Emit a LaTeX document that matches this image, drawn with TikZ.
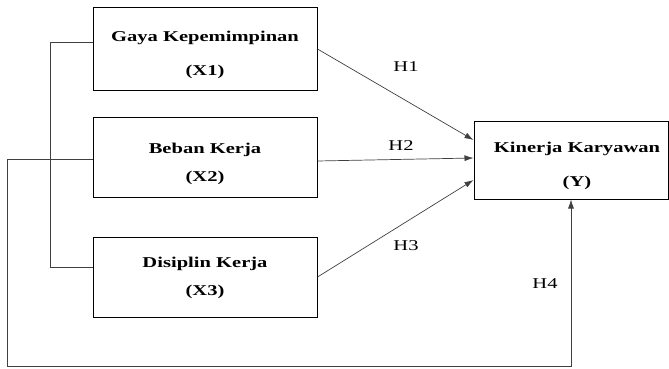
\documentclass[tikz,border=0pt]{standalone}
\usepackage{fontspec}
\setmainfont[FakeStretch=1.37]{Liberation Serif}
\usetikzlibrary{arrows.meta}
\tikzset{
	box/.style = {draw = black, line width = 1pt, minimum width = 224pt, minimum height = 80pt, inner sep = 0pt},
	boxtext/.style = {font = \fontsize{15}{18}\selectfont\bfseries},
	hyp/.style = {font = \fontsize{15}{18}\selectfont},
	link/.style = {draw = black!75, line width = 0.7pt},
	tip/.style = {-{Latex[length=9pt,width=6pt]}}
}
\begin{document}
\begin{tikzpicture}[x=1pt, y=-1pt]
	\useasboundingbox (0,0) rectangle (669,369);
	\node (X1) at (205,49)	[box, minimum height = 82pt]	{};
	\node (X2) at (205,157)	[box]	{};
	\node (X3) at (205,277)	[box]	{};
	\node (Y)  at (571,160)	[box, minimum width = 194pt, minimum height = 78pt]	{};
	\node (X1a) at (205,38)	[boxtext]	{Gaya Kepemimpinan};
	\node (X1b) at (205,72)	[boxtext]	{(X1)};
	\node (X2a) at (205,150)	[boxtext]	{Beban Kerja};
	\node (X2b) at (205,178)	[boxtext]	{(X2)};
	\node (X3a) at (205,264)	[boxtext]	{Disiplin Kerja};
	\node (X3b) at (205,292)	[boxtext]	{(X3)};
	\node (Ya)  at (577,149)	[boxtext]	{Kinerja Karyawan};
	\node (Yb)  at (577,183)	[boxtext]	{(Y)};
	\node (H1) at (406,67)	[hyp]	{H1};
	\node (H2) at (401,146)	[hyp]	{H2};
	\node (H3) at (406,246)	[hyp]	{H3};
	\node (H4) at (545,284)	[hyp]	{H4};
	\coordinate (brkt) at (50,0);
	\coordinate (loop) at (7,366);
	\draw[link, tip] (X1.east) -- ([yshift=20pt]Y.west);
	\draw[link, tip] ([yshift=-4pt]X2.east) -- ([yshift=2pt]Y.west);
	\draw[link, tip] (X3.east) -- ([yshift=-20pt]Y.west);
	\draw[link] ([yshift=7pt]X1.west) -- ([yshift=7pt]X1.west -| brkt) |- ([yshift=10pt]X3.west);
	\draw[link, tip] ([yshift=-2pt]X2.west) -| (loop) -| (Y.south);
\end{tikzpicture}
\end{document}
